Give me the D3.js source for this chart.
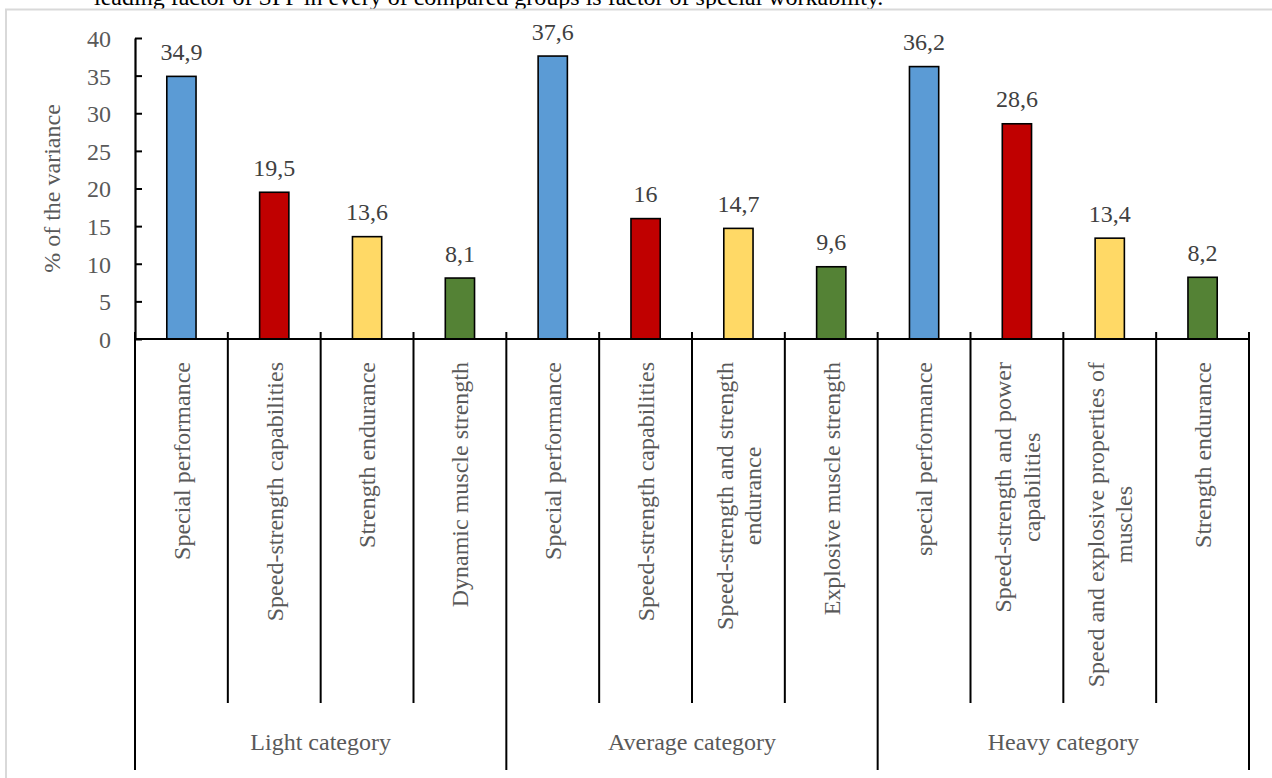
<!DOCTYPE html>
<html>
<head>
<meta charset="utf-8">
<script src="https://cdn.jsdelivr.net/npm/d3@7/dist/d3.min.js"></script>
<style>
  html, body { margin: 0; padding: 0; background: #fff; }
  svg { display: block; }
  text { font-family: "Liberation Serif", "Times New Roman", serif; }
</style>
</head>
<body>
<svg id="chart" width="1272" height="778"></svg>
<script>
// Factor names (one per bar), "|" marks a line break in the axis label
const categories = [
  "Special performance",
  "Speed-strength capabilities",
  "Strength endurance",
  "Dynamic muscle strength",
  "Special performance",
  "Speed-strength capabilities",
  "Speed-strength and strength|endurance",
  "Explosive muscle strength",
  "special performance",
  "Speed-strength and power|capabilities",
  "Speed and explosive properties of|muscles",
  "Strength endurance"
];
// % of the variance explained by each factor
const values = [34.9, 19.5, 13.6, 8.1, 37.6, 16, 14.7, 9.6, 36.2, 28.6, 13.4, 8.2];
// Weight categories, four factors each
const groups = ["Light category", "Average category", "Heavy category"];
// Colour by factor rank within a group
const rankColors = ["#5B9BD5", "#C00000", "#FFD966", "#548235"];
const yTicks = [0, 5, 10, 15, 20, 25, 30, 35, 40];
const yTitle = "% of the variance";
const caption = "leading factor of SFP in every of compared groups is factor of special workability.";

const svg = d3.select("#chart");
const FS = 24;
const grey = "#595959";

const plot = { left: 135, right: 1249, top: 38, bottom: 339 };
const level1Bottom = 703, level2Bottom = 770;

// page caption, partly above the frame
svg.append("text")
  .attr("x", 94).attr("y", 5)
  .attr("font-size", FS).attr("fill", "#000")
  .text(caption);

// chart frame
svg.append("rect")
  .attr("x", 6).attr("y", 9.5)
  .attr("width", 1400).attr("height", 900)
  .attr("fill", "none").attr("stroke", "#d9d9d9").attr("stroke-width", 2);

const x = d3.scaleBand().domain(d3.range(categories.length)).range([plot.left, plot.right]);
const y = d3.scaleLinear().domain([0, 40]).range([plot.bottom, plot.top]);
const bw = x.bandwidth() * 0.315;

// bars
svg.append("g").selectAll("rect")
  .data(values)
  .join("rect")
  .attr("x", (d, i) => x(i) + x.bandwidth() / 2 - bw / 2)
  .attr("y", d => y(d))
  .attr("width", bw)
  .attr("height", d => y(0) - y(d))
  .attr("fill", (d, i) => rankColors[i % 4])
  .attr("stroke", "#000").attr("stroke-width", 1.6);

// value labels
svg.append("g").selectAll("text")
  .data(values)
  .join("text")
  .attr("x", (d, i) => x(i) + x.bandwidth() / 2)
  .attr("y", d => y(d) - 16.5)
  .attr("text-anchor", "middle")
  .attr("font-size", FS).attr("fill", "#404040")
  .text(d => String(d).replace(".", ","));

// y axis
const yAxis = svg.append("g")
  .attr("transform", `translate(${plot.left},0)`)
  .call(d3.axisLeft(y).tickValues(yTicks).tickFormat(d3.format("d"))
    .tickSizeInner(-7).tickSizeOuter(0).tickPadding(24));
yAxis.select(".domain").attr("stroke", "#000").attr("stroke-width", 2.2);
yAxis.selectAll(".tick line").attr("stroke", "#000").attr("stroke-width", 2);
yAxis.selectAll(".tick text")
  .attr("font-size", FS).attr("fill", grey)
  .attr("font-family", "Liberation Serif, Times New Roman, serif")
  .attr("dy", "0.35em");

// y axis title
svg.append("text")
  .attr("transform", `translate(60,${(plot.top + plot.bottom) / 2}) rotate(-90)`)
  .attr("text-anchor", "middle")
  .attr("font-size", FS).attr("fill", grey)
  .text(yTitle);

// x axis line
svg.append("line")
  .attr("x1", plot.left).attr("x2", plot.right)
  .attr("y1", plot.bottom).attr("y2", plot.bottom)
  .attr("stroke", "#000").attr("stroke-width", 2);

// category boundaries: short tick above, divider below
const bounds = d3.range(categories.length + 1).map(i => i < categories.length ? x(i) : plot.right);
svg.append("g").selectAll("line")
  .data(bounds)
  .join("line")
  .attr("x1", d => d).attr("x2", d => d)
  .attr("y1", plot.bottom - 7)
  .attr("y2", (d, i) => i % 4 === 0 ? level2Bottom : level1Bottom)
  .attr("stroke", "#000").attr("stroke-width", 2);

// rotated factor labels, top-aligned under the axis, lines centred on each other
const labelTop = 362;
const lineGap = 28.5;
categories.forEach((c, i) => {
  const lines = c.split("|");
  const cx = x(i) + x.bandwidth() / 2;
  const t = svg.append("text")
    .attr("font-size", FS).attr("fill", grey)
    .attr("text-anchor", "middle");
  const spans = lines.map((ln, k) =>
    t.append("tspan")
      .attr("y", 0.35 * FS + (k - (lines.length - 1) / 2) * lineGap)
      .text(ln));
  const L = d3.max(spans, s => s.node().getComputedTextLength());
  spans.forEach(s => s.attr("x", -L / 2));
  t.attr("transform", `translate(${cx},${labelTop}) rotate(-90)`);
});

// group labels
groups.forEach((g, j) => {
  const x0 = x(j * 4);
  const x1 = j === groups.length - 1 ? plot.right : x(j * 4 + 4);
  svg.append("text")
    .attr("x", (x0 + x1) / 2).attr("y", 749.5)
    .attr("text-anchor", "middle")
    .attr("font-size", FS).attr("fill", grey)
    .text(g);
});
</script>
</body>
</html>
